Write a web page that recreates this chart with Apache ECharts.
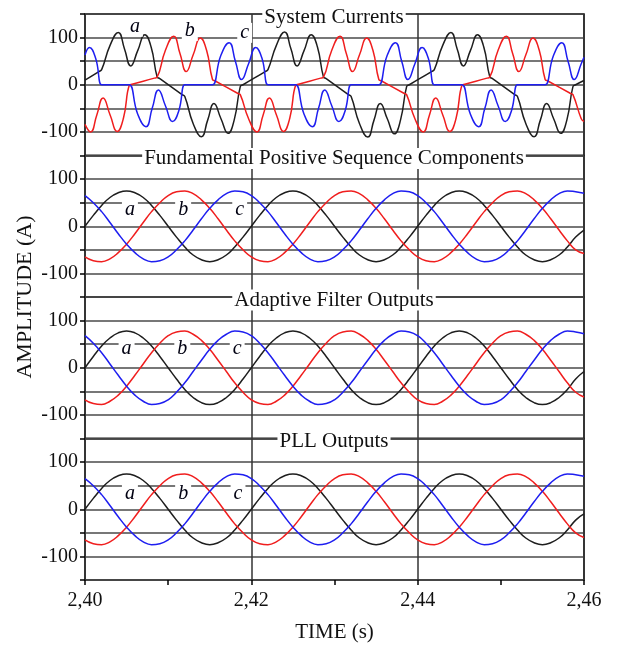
<!DOCTYPE html>
<html>
<head>
<meta charset="utf-8">
<script src="https://cdn.jsdelivr.net/npm/echarts@6/dist/echarts.min.js"></script>
<style>
  html, body { margin: 0; padding: 0; background: #fff; }
  #main { width: 619px; height: 649px; }
</style>
</head>
<body>
<div id="main"></div>
<script>
// System currents (phase a = black, b = red, c = blue), [time s, A]
var curA = [
  [2.4000,10],[2.40167,28],[2.4020,32],[2.4030,83],[2.4040,111],[2.40475,76],[2.4055,40],[2.40635,73],[2.4072,106],[2.40795,80],[2.40867,17],[2.4090,13],[2.41167,-21],[2.4120,-25],[2.4130,-82],[2.4140,-110],[2.41475,-75],[2.4155,-40],[2.41635,-72],[2.4172,-103],[2.41795,-74],[2.41867,-4],[2.4190,0],
  [2.42167,28],[2.4220,32],[2.4230,83],[2.4240,112],[2.42475,77],[2.4255,40],[2.42635,73],[2.4272,106],[2.42795,80],[2.42867,17],[2.4290,13],[2.43167,-21],[2.4320,-25],[2.4330,-82],[2.4340,-111],[2.43475,-75],[2.4355,-40],[2.43635,-72],[2.4372,-104],[2.43795,-74],[2.43867,-4],[2.4390,0],
  [2.44167,28],[2.4420,32],[2.4430,83],[2.4440,111],[2.44475,76],[2.4455,40],[2.44635,73],[2.4472,106],[2.44795,80],[2.44867,17],[2.4490,13],[2.45167,-21],[2.4520,-25],[2.4530,-82],[2.4540,-110],[2.45475,-75],[2.4555,-40],[2.45635,-72],[2.4572,-103],[2.45795,-74],[2.45867,-4],[2.4590,0],[2.4600,9]
];
var curB = [
  [2.4000,-84],[2.40067,-100],[2.40142,-64],[2.40217,-28],[2.40302,-64],[2.40387,-99],[2.40462,-71],[2.40533,-1],[2.40566,1],[2.40834,14],[2.40867,16],[2.40967,73],[2.41067,103],[2.41142,66],[2.41217,28],[2.41302,64],[2.41387,99],[2.41462,73],[2.41533,11],[2.41566,8],[2.41834,-18],[2.41867,-21],[2.41967,-72],
  [2.42067,-100],[2.42142,-64],[2.42217,-28],[2.42302,-64],[2.42387,-99],[2.42462,-71],[2.42533,-1],[2.42566,1],[2.42834,14],[2.42867,16],[2.42967,73],[2.43067,103],[2.43142,66],[2.43217,28],[2.43302,64],[2.43387,99],[2.43462,73],[2.43533,11],[2.43566,8],[2.43834,-18],[2.43867,-21],[2.43967,-72],
  [2.44067,-100],[2.44142,-64],[2.44217,-28],[2.44302,-64],[2.44387,-99],[2.44462,-71],[2.44533,-1],[2.44566,1],[2.44834,14],[2.44867,16],[2.44967,73],[2.45067,103],[2.45142,66],[2.45217,28],[2.45302,64],[2.45387,99],[2.45462,73],[2.45533,11],[2.45566,8],[2.45834,-18],[2.45867,-21],[2.45967,-72],[2.4600,-78]
];
var curC = [
  [2.4000,63],[2.40053,79],[2.40128,56],[2.4020,0],[2.4023,0],[2.40503,0],[2.40533,0],[2.40633,-62],[2.40733,-89],[2.40808,-50],[2.40883,-11],[2.40968,-45],[2.41053,-78],[2.41128,-55],[2.4120,0],[2.4123,0],[2.41503,0],[2.41533,0],[2.41633,62],[2.41733,89],[2.41808,50],[2.41883,11],[2.41968,45],
  [2.42053,79],[2.42128,56],[2.4220,0],[2.4223,0],[2.42503,0],[2.42533,0],[2.42633,-62],[2.42733,-89],[2.42808,-50],[2.42883,-11],[2.42968,-45],[2.43053,-78],[2.43128,-55],[2.4320,0],[2.4323,0],[2.43503,0],[2.43533,0],[2.43633,62],[2.43733,89],[2.43808,50],[2.43883,11],[2.43968,45],
  [2.44053,79],[2.44128,56],[2.4420,0],[2.4423,0],[2.44503,0],[2.44533,0],[2.44633,-62],[2.44733,-89],[2.44808,-50],[2.44883,-11],[2.44968,-45],[2.45053,-78],[2.45128,-55],[2.4520,0],[2.4523,0],[2.45503,0],[2.45533,0],[2.45633,62],[2.45733,89],[2.45808,50],[2.45883,11],[2.45968,45],[2.4600,58]
];

// sinusoidal panels, one sample per ms from 2.400 s to 2.460 s
var sampleStart = 2.40;
var sampleStep = 0.001;

var fundA = [0,23,44,61,71,75,71,61,44,23,0,-23,-44,-61,-71,-75,-71,-61,-44,-23,
  0,23,44,61,71,75,71,61,44,23,0,-23,-44,-61,-71,-75,-71,-61,-44,-23,
  0,23,44,61,71,75,71,61,44,23,0,-23,-44,-61,-71,-75,-71,-61,-44,-23,-8];
var fundB = [-65,-73,-75,-69,-56,-38,-16,8,31,50,65,73,75,69,56,38,16,-8,-31,-50,
  -65,-73,-75,-69,-56,-38,-16,8,31,50,65,73,75,69,56,38,16,-8,-31,-50,
  -65,-73,-75,-69,-56,-38,-16,8,31,50,65,73,75,69,56,38,16,-8,-31,-50,-58];
var fundC = [65,50,31,8,-16,-38,-56,-69,-75,-73,-65,-50,-31,-8,16,38,56,69,75,73,
  65,50,31,8,-16,-38,-56,-69,-75,-73,-65,-50,-31,-8,16,38,56,69,75,73,
  65,50,31,8,-16,-38,-56,-69,-75,-73,-65,-50,-31,-8,16,38,56,69,75,73,70];

var afA = [0,24,46,63,74,78,74,63,46,24,0,-24,-46,-63,-74,-78,-74,-63,-46,-24,
  0,24,46,63,74,78,74,63,46,24,0,-24,-46,-63,-74,-78,-74,-63,-46,-24,
  0,24,46,63,74,78,74,63,46,24,0,-24,-46,-63,-74,-78,-74,-63,-46,-24,-8];
var afB = [-68,-76,-78,-71,-58,-39,-16,8,32,52,68,76,78,71,58,39,16,-8,-32,-52,
  -68,-76,-78,-71,-58,-39,-16,8,32,52,68,76,78,71,58,39,16,-8,-32,-52,
  -68,-76,-78,-71,-58,-39,-16,8,32,52,68,76,78,71,58,39,16,-8,-32,-52,-62];
var afC = [68,52,32,8,-16,-39,-58,-71,-78,-76,-68,-52,-32,-8,16,39,58,71,78,76,
  68,52,32,8,-16,-39,-58,-71,-78,-76,-68,-52,-32,-8,16,39,58,71,78,76,
  68,52,32,8,-16,-39,-58,-71,-78,-76,-68,-52,-32,-8,16,39,58,71,78,76,72];

var pllA = [0,23,44,61,71,75,71,61,44,23,0,-23,-44,-61,-71,-75,-71,-61,-44,-23,
  0,23,44,61,71,75,71,61,44,23,0,-23,-44,-61,-71,-75,-71,-61,-44,-23,
  0,23,44,61,71,75,71,61,44,23,0,-23,-44,-61,-71,-75,-71,-61,-44,-23,-10];
var pllB = [-65,-73,-75,-69,-56,-38,-16,8,31,50,65,73,75,69,56,38,16,-8,-31,-50,
  -65,-73,-75,-69,-56,-38,-16,8,31,50,65,73,75,69,56,38,16,-8,-31,-50,
  -65,-73,-75,-69,-56,-38,-16,8,31,50,65,73,75,69,56,38,16,-8,-31,-50,-60];
var pllC = [65,50,31,8,-16,-38,-56,-69,-75,-73,-65,-50,-31,-8,16,38,56,69,75,73,
  65,50,31,8,-16,-38,-56,-69,-75,-73,-65,-50,-31,-8,16,38,56,69,75,73,
  65,50,31,8,-16,-38,-56,-69,-75,-73,-65,-50,-31,-8,16,38,56,69,75,73,70];

var panelTitles = ["System Currents", "Fundamental Positive Sequence Components", "Adaptive Filter Outputs", "PLL Outputs"];

// phase tags a, b, c per panel: [time, value, text]
var tags = [
  [[2.4060, 123, "a"], [2.4126, 114, "b"], [2.4192, 110, "c"]],
  [[2.4054, 34, "a"], [2.4118, 34, "b"], [2.4186, 34, "c"]],
  [[2.4050, 40, "a"], [2.4117, 40, "b"], [2.4183, 40, "c"]],
  [[2.4054, 32, "a"], [2.4118, 32, "b"], [2.4184, 32, "c"]]
];

function sampled(arr) {
  return arr.map(function (v, i) {
    return [+(sampleStart + i * sampleStep).toFixed(3), v];
  });
}

var panels = [
  [curA, curB, curC],
  [sampled(fundA), sampled(fundB), sampled(fundC)],
  [sampled(afA), sampled(afB), sampled(afC)],
  [sampled(pllA), sampled(pllB), sampled(pllC)]
];

var colors = ["#1e1e1e", "#f01e1e", "#1e1ef0"];
var serif = "Liberation Serif";
var panelTop = 14;
var panelH = 141.5;

var grids = [], xAxes = [], yAxes = [], seriesList = [], graphics = [];

panels.forEach(function (lines, i) {
  var last = i === panels.length - 1;
  grids.push({
    left: 85,
    width: 499,
    top: panelTop + i * panelH,
    height: panelH,
    show: true,
    borderColor: "#000",
    borderWidth: 1.5,
  });
  xAxes.push({
    type: "value",
    gridIndex: i,
    min: 2.40,
    max: 2.46,
    interval: 0.02,
    position: "bottom",
    axisLine: { show: false, onZero: false },
    axisTick: { show: last, length: 5, lineStyle: { color: "#000", width: 1.5 } },
    minorTick: { show: last, splitNumber: 2, length: 5, lineStyle: { color: "#000", width: 1.5 } },
    axisLabel: {
      show: last,
      margin: 11,
      fontFamily: serif,
      fontSize: 20,
      color: "#111",
      formatter: function (v) {
        return v.toFixed(2).replace(".", ",");
      },
    },
    splitLine: { show: true, lineStyle: { color: "#333", width: 1.5 } },
    name: last ? "TIME (s)" : "",
    nameLocation: "middle",
    nameGap: 42,
    nameTextStyle: { fontFamily: serif, fontSize: 21, color: "#111" },
  });
  yAxes.push({
    type: "value",
    gridIndex: i,
    min: -150,
    max: 150,
    interval: 50,
    axisLine: { show: false, onZero: false },
    axisTick: { show: true, length: 5, lineStyle: { color: "#000", width: 1.5 } },
    axisLabel: {
      margin: 7,
      fontFamily: serif,
      fontSize: 20,
      color: "#111",
      formatter: function (v) {
        return v === 100 || v === 0 || v === -100 ? String(v) : "";
      },
    },
    splitLine: { show: true, lineStyle: { color: "#4a4a4a", width: 1.5 } },
  });
  lines.forEach(function (data, k) {
    seriesList.push({
      type: "line",
      xAxisIndex: i,
      yAxisIndex: i,
      data: data,
      smooth: i === 0 ? 0.5 : true,
      showSymbol: false,
      lineStyle: { color: colors[k], width: 1.5 },
      z: 3,
    });
  });
  seriesList.push({
    type: "scatter",
    xAxisIndex: i,
    yAxisIndex: i,
    data: tags[i],
    symbolSize: 0,
    z: 10,
    itemStyle: { opacity: 1 },
    label: {
      show: true,
      position: "inside",
      opacity: 1,
      formatter: function (p) {
        return p.value[2];
      },
      fontFamily: serif,
      fontStyle: "italic",
      fontSize: 20,
      color: "#000011",
      backgroundColor: "#fff",
      padding: [0, 3],
    },
  });
  graphics.push({
    type: "text",
    z: 100,
    x: 334,
    y: panelTop + i * panelH + 3,
    style: {
      text: panelTitles[i],
      font: "21px 'Liberation Serif'",
      fill: "#111",
      textAlign: "center",
      textVerticalAlign: "middle",
      backgroundColor: "#fff",
      padding: [0, 2],
    },
  });
});

graphics.push({
  type: "text",
  x: 25,
  y: 297,
  rotation: Math.PI / 2,
  style: {
    text: "AMPLITUDE (A)",
    font: "22px 'Liberation Serif'",
    fill: "#111",
    textAlign: "center",
    textVerticalAlign: "middle",
  },
});

var myChart = echarts.init(document.getElementById("main"));
myChart.setOption({
  backgroundColor: "#fff",
  animation: false,
  grid: grids,
  xAxis: xAxes,
  yAxis: yAxes,
  series: seriesList,
  graphic: graphics,
});
</script>
</body>
</html>
